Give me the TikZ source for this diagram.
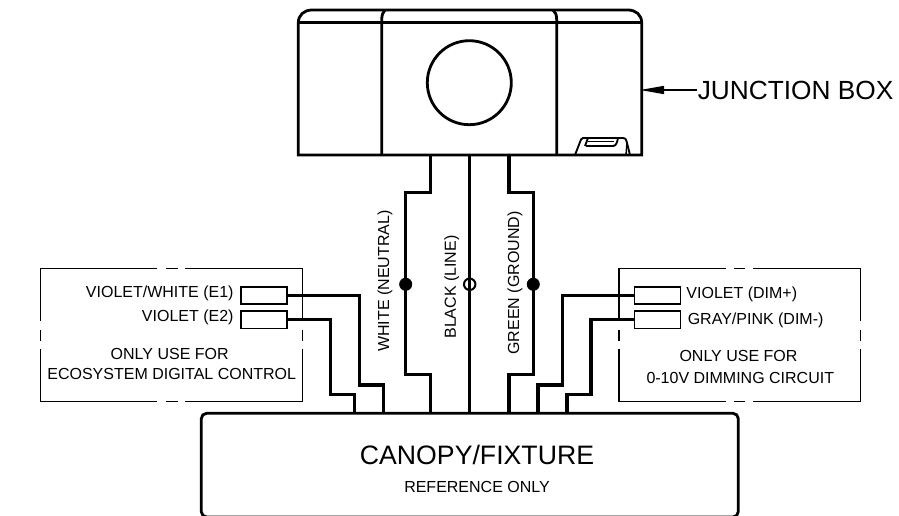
\documentclass[tikz,border=0pt]{standalone}
\usepackage{fontspec}
\setmainfont{Liberation Sans}
\usetikzlibrary{arrows.meta}

\begin{document}
\begin{tikzpicture}[x=0.75pt,y=0.75pt,yscale=-1,xscale=1,
  wire/.style={line width=2.3pt,line join=miter},
  heavy/.style={line width=2.1pt},
  thin frame/.style={line width=1.05pt},
  terminal/.style={draw,line width=1.1pt,minimum width=34.5pt,minimum height=13pt,inner sep=0pt},
  lbl/.style={inner sep=0.75pt,font=\fontsize{12}{14}\selectfont},
  dot/.style={circle,fill=black,minimum size=9.8pt,inner sep=0pt},
  ring/.style={circle,draw,line width=1.5pt,minimum size=8.6pt,inner sep=0pt}]
\useasboundingbox (0,0) rectangle (899,516);

%Junction box outline
\draw [heavy] (298.3,155) -- (298.3,23) .. controls (298.3,15) and (304,10) .. (312,10) -- (628,10) .. controls (636,10) and (641.7,15) .. (641.7,23) -- (641.7,155) -- cycle ;
%Straight Lines
\draw [heavy] (298.3,22.7) -- (641.7,22.7) ;
%Curve Lines
\draw [heavy] (381.7,155) -- (381.7,20) .. controls (381.7,15) and (383,12) .. (385,10) ;
%Curve Lines
\draw [heavy] (556.7,155) -- (556.7,20) .. controls (556.7,15) and (555.5,12) .. (553,10) ;
%Shape: Circle
\draw [heavy] (469.3,82.7) circle (42) ;
%Latch
\draw [line width=1.4pt] (575,155) -- (581,139.5) .. controls (581.5,138.3) and (582,138) .. (583,138) -- (623,138) .. controls (625,138) and (626,139) .. (626.5,141) -- (630,155) ;
\draw [line width=1.4pt] (585,146) -- (588,138) ;
\draw [line width=1.4pt] (586,146) -- (613,146) .. controls (616,146) and (617,143) .. (618,138) ;
\draw [line width=1.1pt] (588,141.5) -- (614,141.5) ;
\draw [line width=1.1pt] (626,155) -- (627,142) ;

%Canopy
\draw [heavy,rounded corners=4pt] (201.3,413.3) rectangle (738.3,517) ;

%Named ends
\coordinate (boxW) at (430.7,154.7);
\coordinate (boxB) at (469.7,154.7);
\coordinate (boxG) at (509,154.7);
\coordinate (canW) at (430.7,413.3);
\coordinate (canB) at (469.7,413.3);
\coordinate (canG) at (509,413.3);
\coordinate (canE1) at (383.3,413.3);
\coordinate (canE2) at (354.7,413.3);
\coordinate (canDp) at (538,413.3);
\coordinate (canDn) at (567,413.3);
\coordinate (boxEdge) at (640,90);

%Left frame
\draw [thin frame] (157.3,268.3) -- (40.7,268.3) -- (40.7,320.7) (40.7,330) -- (40.7,340.7) (40.7,349) -- (40.7,401.7) -- (157.3,401.7) (166,401.7) -- (177.7,401.7) (185.3,401.7) -- (302.7,401.7) -- (302.7,349) (302.7,340.7) -- (302.7,330) (302.7,320.7) -- (302.7,268.3) -- (185.3,268.3) (177.7,268.3) -- (166,268.3) ;
%Right frame
\draw [thin frame] (725.7,268.3) -- (619,268.3) -- (619,320.7) (619,330) -- (619,340.7) (619,349) -- (619,401.7) -- (725.7,401.7) (734.3,401.7) -- (745,401.7) (753.3,401.7) -- (860.3,401.7) -- (860.3,349) (860.3,340.7) -- (860.3,330) (860.3,320.7) -- (860.3,268.3) -- (753.3,268.3) (745,268.3) -- (734.3,268.3) ;

%Terminals
\node [terminal] (termEa) at (264,295.5) {};
\node [terminal] (termEb) at (264,319.8) {};
\node [terminal] (termDp) at (657.5,295.5) {};
\node [terminal] (termDn) at (657.5,319.8) {};

%Wires from the box
\draw [wire] (boxW) |- (405.7,192.7) -- (405.7,374.7) -| (canW) ;
\draw [wire] (boxB) -- (canB) ;
\draw [wire] (boxG) |- (533.3,192.7) -- (533.3,374.7) -| (canG) ;
%Wires from the terminals
\draw [wire] (termEa.east) -| (359.3,385) -| (canE1) ;
\draw [wire] (termEb.east) -| (330.7,394.7) -| (canE2) ;
\draw [wire] (termDp.west) -| (562.3,385) -| (canDp) ;
\draw [wire] (termDn.west) -| (591,394.7) -| (canDn) ;

%Splices
\node [dot] (dotW) at (405.7,284.3) {};
\node [ring] (dotB) at (469.7,284.3) {};
\node [dot] (dotG) at (533.3,284.3) {};

% Text Node
\node [inner sep=0.75pt,anchor=west,font=\fontsize{19.7}{22}\selectfont] (boxLabel) at (696.5,90) {JUNCTION BOX};
%Leader
\draw [line width=1.05pt,-{Triangle[length=18pt,width=6pt]}] (boxLabel.west) -- (boxEdge) ;

% Text Node
\node [lbl,rotate=90] (lblW) at (385,281) {WHITE (NEUTRAL)};
% Text Node
\node [lbl,rotate=90] (lblB) at (451.7,287) {BLACK (LINE)};
% Text Node
\node [lbl,rotate=90] (lblG) at (515,283) {GREEN (GROUND)};
% Text Node
\node [lbl,anchor=east] (lblEa) at (234.8,293.5) {VIOLET/WHITE (E1)};
% Text Node
\node [lbl,anchor=east] (lblEb) at (234.8,317.8) {VIOLET (E2)};
% Text Node
\node [lbl] (lblOnlyE) at (169.7,353.7) {ONLY USE FOR};
% Text Node
\node [lbl] (lblEco) at (171.7,374) {ECOSYSTEM DIGITAL CONTROL};
% Text Node
\node [lbl,anchor=west] (lblDp) at (685.2,294.8) {VIOLET (DIM+)};
% Text Node
\node [lbl,anchor=west] (lblDn) at (686.5,320.8) {GRAY/PINK (DIM-)};
% Text Node
\node [lbl] (lblOnlyD) at (738.5,356.3) {ONLY USE FOR};
% Text Node
\node [lbl] (lblDim) at (740.3,378.3) {0-10V DIMMING CIRCUIT};
% Text Node
\node [inner sep=0.75pt,font=\fontsize{20}{22}\selectfont] (lblCanopy) at (477,455) {CANOPY/FIXTURE};
% Text Node
\node [lbl] (lblRef) at (477,487.3) {REFERENCE ONLY};

\end{tikzpicture}
\end{document}
